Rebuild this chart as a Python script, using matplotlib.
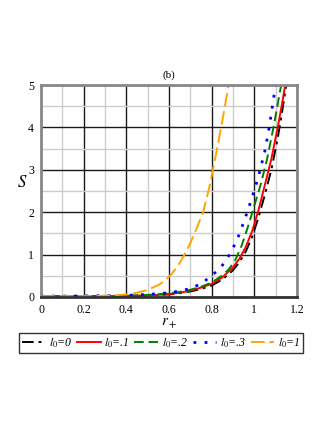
import matplotlib
matplotlib.use("Agg")
import matplotlib.pyplot as plt

plt.rcParams["font.family"] = ["Liberation Serif", "DejaVu Serif"]
plt.rcParams["mathtext.fontset"] = "stix"

# values
r_l00 = [0, 0.1, 0.2, 0.3, 0.4, 0.5, 0.55, 0.6, 0.65, 0.7, 0.75, 0.8, 0.85, 0.9, 0.93, 0.96, 0.99, 1.02, 1.05, 1.08, 1.11, 1.13, 1.15]
S_l00 = [0.02, 0.02, 0.02, 0.02, 0.022, 0.03, 0.045, 0.062, 0.09, 0.13, 0.19, 0.27, 0.41, 0.63, 0.82, 1.07, 1.42, 1.88, 2.42, 3.0, 3.75, 4.35, 5.0]

r_l01 = [0, 0.1, 0.2, 0.3, 0.4, 0.5, 0.55, 0.6, 0.65, 0.7, 0.75, 0.8, 0.85, 0.9, 0.93, 0.96, 0.99, 1.02, 1.05, 1.08, 1.11, 1.13, 1.145]
S_l01 = [0.02, 0.02, 0.02, 0.02, 0.025, 0.035, 0.05, 0.07, 0.10, 0.15, 0.22, 0.31, 0.46, 0.70, 0.90, 1.18, 1.55, 2.05, 2.65, 3.25, 4.0, 4.55, 5.0]

r_l02 = [0, 0.1, 0.2, 0.3, 0.4, 0.5, 0.55, 0.6, 0.65, 0.7, 0.75, 0.8, 0.85, 0.88, 0.91, 0.94, 0.97, 1.0, 1.03, 1.06, 1.09, 1.11, 1.126]
S_l02 = [0.02, 0.02, 0.02, 0.025, 0.03, 0.05, 0.065, 0.09, 0.12, 0.17, 0.24, 0.34, 0.51, 0.65, 0.86, 1.2, 1.65, 2.15, 2.65, 3.25, 4.0, 4.55, 5.0]

r_l03 = [0, 0.1, 0.2, 0.3, 0.4, 0.5, 0.55, 0.6, 0.65, 0.7, 0.75, 0.8, 0.84, 0.87, 0.9, 0.93, 0.96, 0.99, 1.02, 1.05, 1.07, 1.085, 1.1]
S_l03 = [0.02, 0.02, 0.025, 0.03, 0.04, 0.06, 0.08, 0.10, 0.14, 0.20, 0.31, 0.50, 0.68, 0.88, 1.15, 1.48, 1.9, 2.35, 2.85, 3.45, 4.0, 4.5, 5.0]

r_l1 = [0, 0.1, 0.2, 0.3, 0.35, 0.4, 0.45, 0.5, 0.55, 0.58, 0.61, 0.64, 0.67, 0.7, 0.73, 0.76, 0.79, 0.82, 0.85, 0.88]
S_l1 = [0.02, 0.02, 0.02, 0.03, 0.04, 0.06, 0.10, 0.17, 0.28, 0.38, 0.53, 0.72, 0.97, 1.27, 1.62, 2.0, 2.6, 3.35, 4.15, 5.0]

labels = [r"$l_0$=0", r"$l_0$=.1", r"$l_0$=.2", r"$l_0$=.3", r"$l_0$=1"]
x_ticks = [0, 0.2, 0.4, 0.6, 0.8, 1.0, 1.2]
x_tick_labels = ["0", "0.2", "0.4", "0.6", "0.8", "1", "1.2"]
y_ticks = [0, 1, 2, 3, 4, 5]

fig = plt.figure(figsize=(3.27, 4.23), dpi=100)
ax = fig.add_axes([0.1254, 0.2979, 0.7826, 0.5011])

ax.plot(r_l00, S_l00, color="black", linewidth=1.4, linestyle=(0, (6, 2.5, 1.5, 2.5)), label=labels[0])
ax.plot(r_l01, S_l01, color="red", linewidth=1.4, linestyle="-", label=labels[1])
ax.plot(r_l02, S_l02, color="green", linewidth=1.4, linestyle=(0, (5, 2.5)), label=labels[2])
ax.plot(r_l03, S_l03, color="blue", linewidth=2.0, linestyle=(0, (1, 3)), label=labels[3])
ax.plot(r_l1, S_l1, color="orange", linewidth=1.4, linestyle=(0, (7, 2.5)), label=labels[4])

ax.set_xlim(0, 1.2)
ax.set_ylim(0, 5)
ax.set_xticks(x_ticks)
ax.set_xticklabels(x_tick_labels, fontsize=8.5)
ax.set_xticks([0.1, 0.3, 0.5, 0.7, 0.9, 1.1], minor=True)
ax.set_yticks(y_ticks)
ax.set_yticklabels([str(v) for v in y_ticks], fontsize=8.5)
ax.set_yticks([0.5, 1.5, 2.5, 3.5, 4.5], minor=True)
ax.tick_params(which="both", length=0, pad=5)
ax.grid(True, which="minor", color="#cccccc", linewidth=1.0)
ax.grid(True, which="major", color="#1a1a1a", linewidth=1.0)
ax.set_axisbelow(True)
for side in ["left", "top", "right"]:
    ax.spines[side].set_color("#888888")
    ax.spines[side].set_linewidth(2.0)
ax.spines["bottom"].set_color("#333333")
ax.spines["bottom"].set_linewidth(2.0)

ax.set_title("(b)", fontsize=8, pad=5)
ax.set_xlabel(r"$r_+$", fontsize=11, labelpad=1)
ax.set_ylabel(r"$S$", fontsize=12, rotation=0, labelpad=8)
ax.yaxis.set_label_coords(-0.075, 0.5)

leg = fig.legend(loc="center", bbox_to_anchor=(0.4925, 0.1895), ncol=5, fontsize=8.5,
                 frameon=True, fancybox=False, edgecolor="black", handlelength=2.0,
                 handletextpad=0.3, columnspacing=0.4, borderpad=0.25, borderaxespad=0)
leg.get_frame().set_linewidth(1.0)
for t in leg.get_texts():
    t.set_fontstyle("italic")

fig.savefig("out.png", dpi=100)
